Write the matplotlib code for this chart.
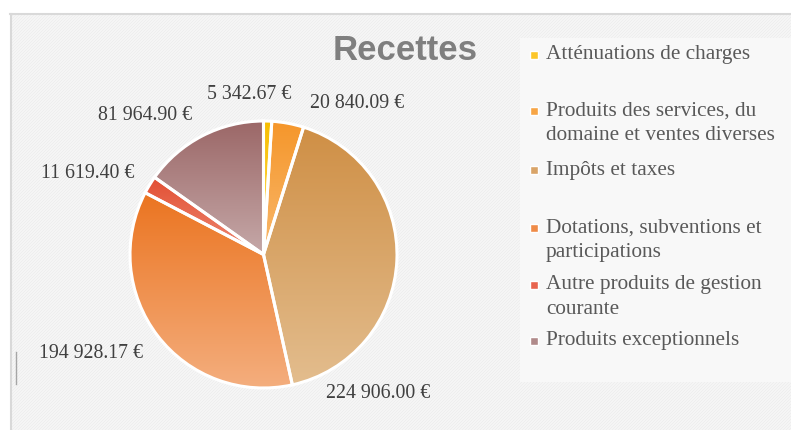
import numpy as np
import matplotlib
matplotlib.use("Agg")
import matplotlib.pyplot as plt
from matplotlib.patches import Rectangle
from matplotlib.lines import Line2D
from matplotlib.colors import to_rgb

# ---------------- data ----------------
categories = [
    "Atténuations de charges",
    "Produits des services, du\ndomaine et ventes diverses",
    "Impôts et taxes",
    "Dotations, subventions et\nparticipations",
    "Autre produits de gestion\ncourante",
    "Produits exceptionnels",
]
values = [5342.67, 20840.09, 224906.00, 194928.17, 11619.40, 81964.90]
value_labels = ["5 342.67 €", "20 840.09 €", "224 906.00 €",
                "194 928.17 €", "11 619.40 €", "81 964.90 €"]
title = "Recettes"

# ---------------- styles / layout ----------------
grad_top = ["#F7BE00", "#F5962A", "#CF8F45", "#EB7420", "#E24E32", "#9B6767"]
grad_bot = ["#FFD95A", "#F9B86C", "#E3BD8E", "#F4AE7E", "#EE8A74", "#C5A8A8"]
legend_colors = ["#FCC629", "#F7A545", "#D9A468", "#EF8B47", "#E8644E", "#B08A8A"]
# label positions relative to pie centre, in units of the radius
label_offsets = [(-0.11, 1.20), (0.70, 1.13), (0.86, -1.04),
                 (-1.29, -0.74), (-1.32, 0.61), (-0.89, 1.04)]
legend_y_px = [55, 111, 170, 228, 285, 341]

W, H = 791, 430
fig = plt.figure(figsize=(W / 100, H / 100), dpi=100)
fig.patch.set_facecolor("white")

def fx(px):
    return px / W

def fy(py):
    return 1 - py / H

# background chart area with subtle diagonal texture
bg = fig.add_axes([fx(10), 0, 1 - fx(10), fy(14)])
bw, bh = W - 10, H - 14
yy, xx = np.mgrid[0:bh, 0:bw]
pattern = np.where(((xx + yy) % 3) == 0, 0.935, 0.962)
bg.imshow(np.dstack([pattern] * 3), aspect="auto", interpolation="nearest",
          extent=[0, 1, 0, 1])
bg.set_axis_off()
fig.add_artist(Line2D([fx(10), 1], [fy(13.5), fy(13.5)], color="#D9D9D9", lw=1.5))
fig.add_artist(Line2D([fx(10.5), fx(10.5)], [0, fy(13.5)], color="#D9D9D9", lw=1.5))
fig.add_artist(Line2D([fx(15.5), fx(15.5)], [fy(352), fy(384)], color="#A6A6A6", lw=1))

# legend box
fig.add_artist(Rectangle((fx(520), fy(382)), 1 - fx(520), fy(38) - fy(382),
                         transform=fig.transFigure, facecolor="#F8F8F8",
                         edgecolor="none", zorder=1))

# ---------------- pie ----------------
cx, cy, r = 263.5, 254.5, 133.5
ax = fig.add_axes([fx(cx - r), fy(cy + r), 2 * r / W, 2 * r / H])
wedges, _ = ax.pie(values, startangle=90, counterclock=False, radius=1,
                   wedgeprops=dict(edgecolor="white", linewidth=2.2, facecolor="none"))
ax.set_aspect("equal")
ax.set_axis_off()

for w, ct, cb in zip(wedges, grad_top, grad_bot):
    ext = w.get_path().get_extents()
    c0, c1 = np.array(to_rgb(ct)), np.array(to_rgb(cb))
    t = np.linspace(0, 1, 256)[:, None]
    grad = c0[None, None, :] * (1 - t[..., None]) + c1[None, None, :] * t[..., None]
    grad = np.repeat(grad, 2, axis=1)
    im = ax.imshow(grad, extent=[ext.x0, ext.x1, ext.y0, ext.y1], origin="upper",
                   aspect="auto", interpolation="bilinear", zorder=1)
    im.set_clip_path(w)
    w.set_zorder(2)
ax.set_xlim(-1, 1)
ax.set_ylim(-1, 1)

for lab, (ox, oy) in zip(value_labels, label_offsets):
    ax.text(ox, oy, lab, ha="center", va="center", fontsize=14.3,
            family="Liberation Serif", color="#404040", clip_on=False, zorder=5)

# ---------------- title ----------------
fig.text(fx(405), fy(50), title, ha="center", va="center", fontsize=25,
         fontweight="bold", family="Liberation Sans", color="#7F7F7F")

# ---------------- legend ----------------
for name, col, ypx in zip(categories, legend_colors, legend_y_px):
    fig.add_artist(Rectangle((fx(530), fy(ypx + 4)), fx(8), fy(ypx - 4) - fy(ypx + 4),
                             transform=fig.transFigure, facecolor=col,
                             edgecolor="white", lw=1, zorder=3))
    for i, line in enumerate(name.split("\n")):
        fig.text(fx(546), fy(ypx + 24.5 * i), line, ha="left", va="center",
                 fontsize=15.3, family="Liberation Serif", color="#595959", zorder=3)

fig.savefig("out.png", dpi=100, facecolor=fig.get_facecolor())
